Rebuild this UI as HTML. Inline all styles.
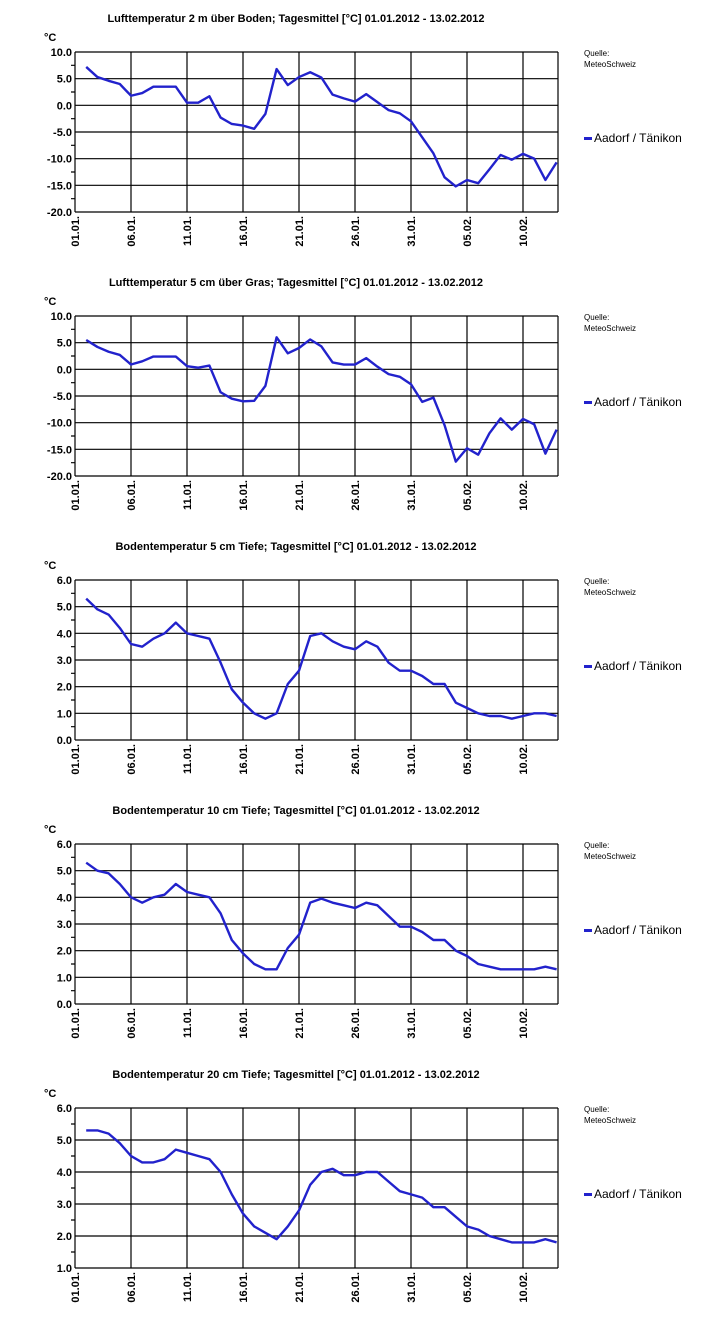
<!DOCTYPE html>
<html><head><meta charset="utf-8"><style>
html,body{margin:0;padding:0;background:#fff;}
svg{display:block;font-family:"Liberation Sans",sans-serif;}
.t{font-size:11px;font-weight:bold;}
.yl{font-size:11px;font-weight:bold;text-anchor:end;}
.xl{font-size:11px;font-weight:bold;text-anchor:end;}
.q{font-size:8px;}
.lg{font-size:12px;}
.g{stroke:#000;stroke-width:1.2;fill:none;}
.d{fill:none;stroke:#2222cc;stroke-width:2.4;vector-effect:non-scaling-stroke;stroke-linejoin:round;}
</style></head><body>
<svg width="714" height="1320" viewBox="0 0 714 1320">
<defs>
<g id="vg">
<path class="g" d="M75,52V212M131,52V212M187,52V212M243,52V212M299,52V212M355,52V212M411,52V212M467,52V212M523,52V212M558,52V212"/>
<g transform="rotate(-90)">
<text class="xl" x="-216" y="79">01.01.</text>
<text class="xl" x="-216" y="135">06.01.</text>
<text class="xl" x="-216" y="191">11.01.</text>
<text class="xl" x="-216" y="247">16.01.</text>
<text class="xl" x="-216" y="303">21.01.</text>
<text class="xl" x="-216" y="359">26.01.</text>
<text class="xl" x="-216" y="415">31.01.</text>
<text class="xl" x="-216" y="471">05.02.</text>
<text class="xl" x="-216" y="527">10.02.</text>
</g>
<text class="q" x="584" y="56">Quelle:</text>
<text class="q" x="584" y="67">MeteoSchweiz</text>
<rect x="584" y="137" width="8" height="3" fill="#2222cc"/>
<text class="lg" x="594" y="142">Aadorf / Tänikon</text>
<text class="t" x="44" y="41">°C</text>
</g>
<g id="h7">
<path class="g" d="M75,52H558M75,78.67H558M75,105.33H558M75,132H558M75,158.67H558M75,185.33H558M75,212H558"/>
<path class="g" d="M71,65.33H75M71,92H75M71,118.67H75M71,145.33H75M71,172H75M71,198.67H75"/>
</g>
</defs>

<!-- Chart 1 -->
<g>
<use href="#vg"/><use href="#h7"/>
<text class="t" x="296" y="22" text-anchor="middle">Lufttemperatur 2 m über Boden; Tagesmittel [°C]  01.01.2012 - 13.02.2012</text>
<text class="yl" x="72" y="56">10.0</text><text class="yl" x="72" y="82.7">5.0</text><text class="yl" x="72" y="109.3">0.0</text><text class="yl" x="72" y="136">-5.0</text><text class="yl" x="72" y="162.7">-10.0</text><text class="yl" x="72" y="189.3">-15.0</text><text class="yl" x="72" y="216">-20.0</text>
<polyline class="d" transform="translate(75,105.33) scale(11.2,-5.333)" points="1,7.2 2,5.3 3,4.6 4,4.0 5,1.8 6,2.3 7,3.5 8,3.5 9,3.5 10,0.5 11,0.5 12,1.7 13,-2.3 14,-3.5 15,-3.8 16,-4.4 17,-1.6 18,6.8 19,3.8 20,5.3 21,6.2 22,5.2 23,2.0 24,1.3 25,0.7 26,2.1 27,0.6 28,-0.9 29,-1.5 30,-3.0 31,-6 32,-9 33,-13.5 34,-15.2 35,-14 36,-14.6 37,-12 38,-9.3 39,-10.2 40,-9.1 41,-10 42,-14 43,-10.7"/>
</g>

<!-- Chart 2 -->
<g transform="translate(0,264)">
<use href="#vg"/><use href="#h7"/>
<text class="t" x="296" y="22" text-anchor="middle">Lufttemperatur 5 cm über Gras; Tagesmittel [°C]  01.01.2012 - 13.02.2012</text>
<text class="yl" x="72" y="56">10.0</text><text class="yl" x="72" y="82.7">5.0</text><text class="yl" x="72" y="109.3">0.0</text><text class="yl" x="72" y="136">-5.0</text><text class="yl" x="72" y="162.7">-10.0</text><text class="yl" x="72" y="189.3">-15.0</text><text class="yl" x="72" y="216">-20.0</text>
<polyline class="d" transform="translate(75,105.33) scale(11.2,-5.333)" points="1,5.5 2,4.2 3,3.3 4,2.7 5,0.9 6,1.5 7,2.4 8,2.4 9,2.4 10,0.6 11,0.3 12,0.7 13,-4.3 14,-5.5 15,-6 16,-5.9 17,-3.1 18,6 19,3 20,4 21,5.6 22,4.3 23,1.3 24,0.9 25,0.9 26,2.1 27,0.5 28,-0.9 29,-1.4 30,-2.8 31,-6.1 32,-5.3 33,-10.5 34,-17.3 35,-14.8 36,-16 37,-12 38,-9.2 39,-11.3 40,-9.3 41,-10.3 42,-15.8 43,-11.3"/>
</g>

<!-- Chart 3 -->
<g transform="translate(0,528)">
<use href="#vg"/><use href="#h7"/>
<text class="t" x="296" y="22" text-anchor="middle">Bodentemperatur 5 cm Tiefe; Tagesmittel [°C]  01.01.2012 - 13.02.2012</text>
<text class="yl" x="72" y="56">6.0</text><text class="yl" x="72" y="82.7">5.0</text><text class="yl" x="72" y="109.3">4.0</text><text class="yl" x="72" y="136">3.0</text><text class="yl" x="72" y="162.7">2.0</text><text class="yl" x="72" y="189.3">1.0</text><text class="yl" x="72" y="216">0.0</text>
<polyline class="d" transform="translate(75,212) scale(11.2,-26.667)" points="1,5.3 2,4.9 3,4.7 4,4.2 5,3.6 6,3.5 7,3.8 8,4.0 9,4.4 10,4.0 11,3.9 12,3.8 13,2.9 14,1.9 15,1.4 16,1.0 17,0.8 18,1.0 19,2.1 20,2.6 21,3.9 22,4.0 23,3.7 24,3.5 25,3.4 26,3.7 27,3.5 28,2.9 29,2.6 30,2.6 31,2.4 32,2.1 33,2.1 34,1.4 35,1.2 36,1.0 37,0.9 38,0.9 39,0.8 40,0.9 41,1.0 42,1.0 43,0.9"/>
</g>

<!-- Chart 4 -->
<g transform="translate(0,792)">
<use href="#vg"/><use href="#h7"/>
<text class="t" x="296" y="22" text-anchor="middle">Bodentemperatur 10 cm Tiefe; Tagesmittel [°C]  01.01.2012 - 13.02.2012</text>
<text class="yl" x="72" y="56">6.0</text><text class="yl" x="72" y="82.7">5.0</text><text class="yl" x="72" y="109.3">4.0</text><text class="yl" x="72" y="136">3.0</text><text class="yl" x="72" y="162.7">2.0</text><text class="yl" x="72" y="189.3">1.0</text><text class="yl" x="72" y="216">0.0</text>
<polyline class="d" transform="translate(75,212) scale(11.2,-26.667)" points="1,5.3 2,5.0 3,4.9 4,4.5 5,4.0 6,3.8 7,4.0 8,4.1 9,4.5 10,4.2 11,4.1 12,4.0 13,3.4 14,2.4 15,1.9 16,1.5 17,1.3 18,1.3 19,2.1 20,2.6 21,3.8 22,3.95 23,3.8 24,3.7 25,3.6 26,3.8 27,3.7 28,3.3 29,2.9 30,2.9 31,2.7 32,2.4 33,2.4 34,2.0 35,1.8 36,1.5 37,1.4 38,1.3 39,1.3 40,1.3 41,1.3 42,1.4 43,1.3"/>
</g>

<!-- Chart 5 -->
<g transform="translate(0,1056)">
<use href="#vg"/>
<path class="g" d="M75,52H558M75,84H558M75,116H558M75,148H558M75,180H558M75,212H558"/>
<path class="g" d="M71,68H75M71,100H75M71,132H75M71,164H75M71,196H75"/>
<text class="t" x="296" y="22" text-anchor="middle">Bodentemperatur 20 cm Tiefe; Tagesmittel [°C]  01.01.2012 - 13.02.2012</text>
<text class="yl" x="72" y="56">6.0</text><text class="yl" x="72" y="88">5.0</text><text class="yl" x="72" y="120">4.0</text><text class="yl" x="72" y="152">3.0</text><text class="yl" x="72" y="184">2.0</text><text class="yl" x="72" y="216">1.0</text>
<polyline class="d" transform="translate(75,244) scale(11.2,-32)" points="1,5.3 2,5.3 3,5.2 4,4.9 5,4.5 6,4.3 7,4.3 8,4.4 9,4.7 10,4.6 11,4.5 12,4.4 13,4.0 14,3.3 15,2.7 16,2.3 17,2.1 18,1.9 19,2.3 20,2.8 21,3.6 22,4.0 23,4.1 24,3.9 25,3.9 26,4.0 27,4.0 28,3.7 29,3.4 30,3.3 31,3.2 32,2.9 33,2.9 34,2.6 35,2.3 36,2.2 37,2.0 38,1.9 39,1.8 40,1.8 41,1.8 42,1.9 43,1.8"/>
</g>
</svg>
</body></html>
